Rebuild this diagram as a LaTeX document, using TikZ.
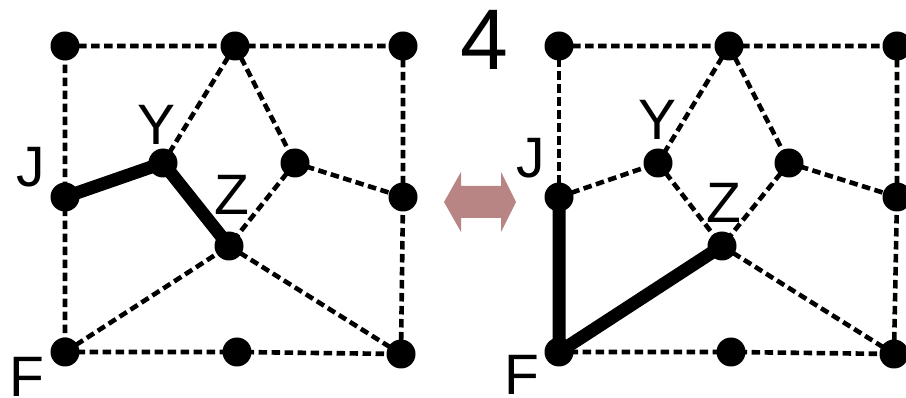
\documentclass[tikz,border=0pt]{standalone}
\usepackage{fontspec}
\setmainfont{Liberation Sans}
\definecolor{arrowpink}{HTML}{B88484}
\tikzset{
  dot/.style={circle,fill=black,inner sep=0pt,minimum size=29pt},
  dashedge/.style={line width=4.6pt,dash pattern=on 8.5pt off 4.5pt},
  thickedge/.style={line width=13pt},
  lbl/.style={anchor=base,inner sep=0pt,font=\fontsize{57}{57}\selectfont},
}
\begin{document}
\begin{tikzpicture}[x=1pt,y=-1pt]
\useasboundingbox (0,0) rectangle (906,398);
% ---------- left panel ----------
\coordinate (aTL) at (65,46);
\coordinate (aTM) at (235,46);
\coordinate (aTR) at (403,46);
\coordinate (aJ) at (65,197);
\coordinate (aY) at (163,163);
\coordinate (aRM) at (295,163);
\coordinate (aRS) at (403,197);
\coordinate (aZ) at (229,246);
\coordinate (aF) at (65,352);
\coordinate (aBM) at (237,352);
\coordinate (aBR) at (401,354);
\draw[dashedge] (aTL) -- (aTM) -- (aTR) -- (aRS) -- (aBR) -- (aBM) -- (aF) -- (aJ) -- (aTL);
\draw[dashedge] (aTM) -- (aY);
\draw[dashedge] (aTM) -- (aRM) -- (aRS);
\draw[dashedge] (aRM) -- (aZ);
\draw[dashedge] (aF) -- (aZ) -- (aBR);
\draw[thickedge,line join=round] (aJ) -- (aY) -- (aZ);
\foreach \p in {aTL,aTM,aTR,aJ,aY,aRM,aRS,aZ,aF,aBM,aBR}
  \node[dot] (n\p) at (\p) {};
\node[lbl] (laJ) at (31,187) {J};
\node[lbl] (laY) at (157,145) {Y};
\node[lbl] (laZ) at (232,215) {Z};
\node[lbl] (laF) at (27,396) {F};
% ---------- right panel ----------
\coordinate (bTL) at (559,46);
\coordinate (bTM) at (729,46);
\coordinate (bTR) at (897,46);
\coordinate (bJ) at (559,197);
\coordinate (bY) at (658,163);
\coordinate (bRM) at (789,163);
\coordinate (bRS) at (897,197);
\coordinate (bZ) at (722,246);
\coordinate (bF) at (559,352);
\coordinate (bBM) at (731,352);
\coordinate (bBR) at (894,354);
\draw[dashedge] (bTL) -- (bTM) -- (bTR) -- (bRS) -- (bBR) -- (bBM) -- (bF);
\draw[dashedge] (bJ) -- (bTL);
\draw[dashedge] (bTM) -- (bY);
\draw[dashedge] (bTM) -- (bRM) -- (bRS);
\draw[dashedge] (bRM) -- (bZ);
\draw[dashedge] (bZ) -- (bBR);
\draw[dashedge] (bJ) -- (bY) -- (bZ);
\draw[thickedge,line join=round] (bJ) -- (bF) -- (bZ);
\foreach \p in {bTL,bTM,bTR,bJ,bY,bRM,bRS,bZ,bF,bBM,bBR}
  \node[dot] (n\p) at (\p) {};
\node[lbl] (lbJ) at (531,178) {J};
\node[lbl] (lbY) at (658,140) {Y};
\node[lbl] (lbZ) at (724,223) {Z};
\node[lbl] (lbF) at (522,395) {F};
% ---------- title number ----------
\node[anchor=base,inner sep=0pt,font=\fontsize{86}{86}\selectfont] (num) at (484,70) {4};
% ---------- double arrow ----------
\fill[arrowpink] (444,202) -- (461,172) -- (461,186) -- (501,186) -- (501,172)
  -- (516,202) -- (501,232) -- (501,218) -- (461,218) -- (461,232) -- cycle;
\end{tikzpicture}
\end{document}
